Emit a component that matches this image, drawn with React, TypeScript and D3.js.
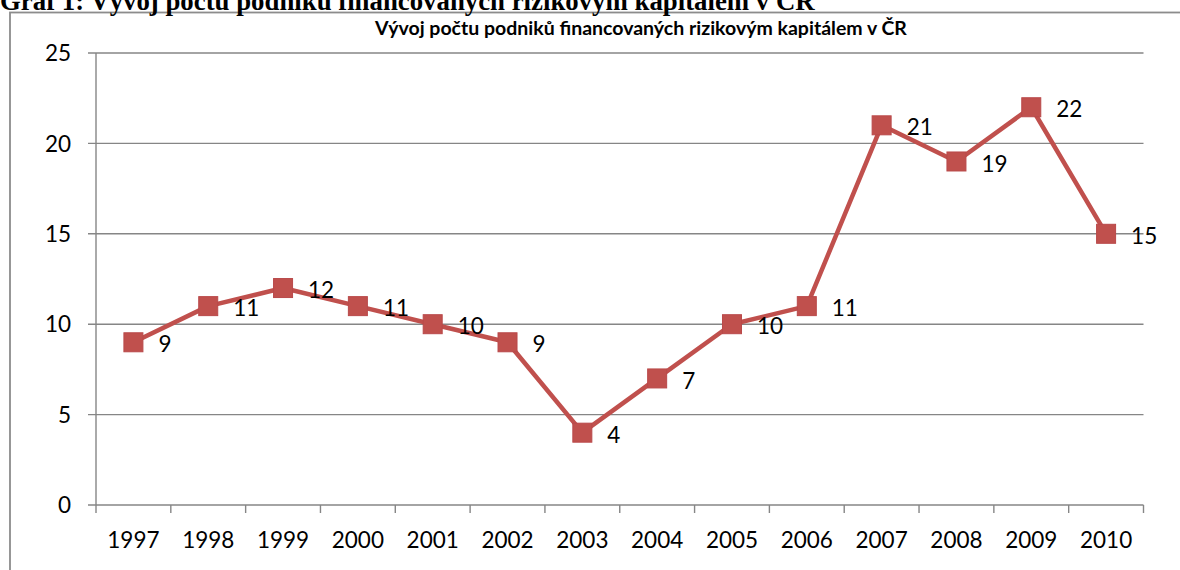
import React, { useEffect, useRef } from 'react';
import * as d3 from 'd3';

// data
const years = ['1997', '1998', '1999', '2000', '2001', '2002', '2003', '2004', '2005', '2006', '2007', '2008', '2009', '2010'];
const counts = [9, 11, 12, 11, 10, 9, 4, 7, 10, 11, 21, 19, 22, 15];
const yTicks = [0, 5, 10, 15, 20, 25];

const pageTitle = 'Graf 1: Vývoj počtu podniků financovaných rizikovým kapitálem v ČR';
const chartTitle = 'Vývoj počtu podniků financovaných rizikovým kapitálem v ČR';

const LineChart = () => {
  const svgRef = useRef<SVGSVGElement>(null);

  useEffect(() => {
    const svg = d3.select(svgRef.current);
    svg.selectAll('*').remove();

    const W = 1180;
    const H = 570;
    const plot = { left: 96, right: 1143.5, top: 53, bottom: 505 };
    const grey = '#868686';
    const red = '#C0504D';
    const font = 'Lato, "Open Sans", sans-serif';

    const x = d3.scaleBand().domain(years).range([plot.left, plot.right]);
    const y = d3.scaleLinear().domain([0, 25]).range([plot.bottom, plot.top]);
    const cx = (d: string) => (x(d) as number) + x.bandwidth() / 2;

    // outer chart border (clipped by the page)
    svg.append('rect')
      .attr('x', 10).attr('y', 12.5)
      .attr('width', W + 20).attr('height', H + 20)
      .attr('fill', 'white')
      .attr('stroke', '#8c8c8c')
      .attr('stroke-width', 1.8);

    // document caption above the chart, cut off at the top like in the source
    svg.append('text')
      .attr('x', 0).attr('y', 10)
      .attr('font-family', '"Liberation Serif", "Times New Roman", serif')
      .attr('font-weight', 'bold')
      .attr('font-size', 26.8)
      .text(pageTitle);

    svg.append('text')
      .attr('x', 641).attr('y', 35)
      .attr('text-anchor', 'middle')
      .attr('font-family', font)
      .attr('font-weight', 'bold')
      .attr('font-size', 19.5)
      .text(chartTitle);

    // horizontal gridlines + y ticks
    svg.append('g')
      .selectAll('line')
      .data(yTicks)
      .enter()
      .append('line')
      .attr('x1', plot.left - 8)
      .attr('x2', plot.right)
      .attr('y1', d => y(d))
      .attr('y2', d => y(d))
      .attr('stroke', grey)
      .attr('stroke-width', 1.4);

    svg.append('g')
      .selectAll('text')
      .data(yTicks)
      .enter()
      .append('text')
      .attr('x', 71)
      .attr('y', d => y(d))
      .attr('dy', '0.36em')
      .attr('text-anchor', 'end')
      .attr('font-family', font)
      .attr('font-size', 22.5)
      .text(d => d);

    // y axis line
    svg.append('line')
      .attr('x1', plot.left).attr('x2', plot.left)
      .attr('y1', plot.top).attr('y2', plot.bottom)
      .attr('stroke', grey)
      .attr('stroke-width', 1.4);

    // x tick marks on category boundaries
    const bounds = years.map(d => x(d) as number).concat([plot.right]);
    svg.append('g')
      .selectAll('line')
      .data(bounds)
      .enter()
      .append('line')
      .attr('x1', d => d).attr('x2', d => d)
      .attr('y1', plot.bottom).attr('y2', plot.bottom + 8)
      .attr('stroke', grey)
      .attr('stroke-width', 1.4);

    svg.append('g')
      .selectAll('text')
      .data(years)
      .enter()
      .append('text')
      .attr('x', d => cx(d))
      .attr('y', 548)
      .attr('text-anchor', 'middle')
      .attr('font-family', font)
      .attr('font-size', 22.5)
      .text(d => d);

    // the series line
    const line = d3.line<number>()
      .x((_, i) => cx(years[i]))
      .y(d => y(d));

    svg.append('path')
      .datum(counts)
      .attr('d', line)
      .attr('fill', 'none')
      .attr('stroke', red)
      .attr('stroke-width', 4.5)
      .attr('stroke-linejoin', 'round');

    // square markers
    const m = 19;
    svg.append('g')
      .selectAll('rect')
      .data(counts)
      .enter()
      .append('rect')
      .attr('x', (_, i) => cx(years[i]) - m / 2)
      .attr('y', d => y(d) - m / 2)
      .attr('width', m)
      .attr('height', m)
      .attr('fill', red)
      .attr('stroke', '#b9494a')
      .attr('stroke-width', 1);

    // data labels to the right of each point
    svg.append('g')
      .selectAll('text')
      .data(counts)
      .enter()
      .append('text')
      .attr('x', (_, i) => cx(years[i]) + 25)
      .attr('y', d => y(d) + 2)
      .attr('dy', '0.36em')
      .attr('font-family', font)
      .attr('font-size', 22.5)
      .text(d => d);
  }, []);

  return <svg ref={svgRef} width={1180} height={570} style={{ display: 'block' }}></svg>;
};

export default function App() {
  return (
    <div style={{ position: 'absolute', left: 0, top: 0, width: 1180, height: 570, overflow: 'hidden', background: 'white' }}>
      <LineChart />
    </div>
  );
}
